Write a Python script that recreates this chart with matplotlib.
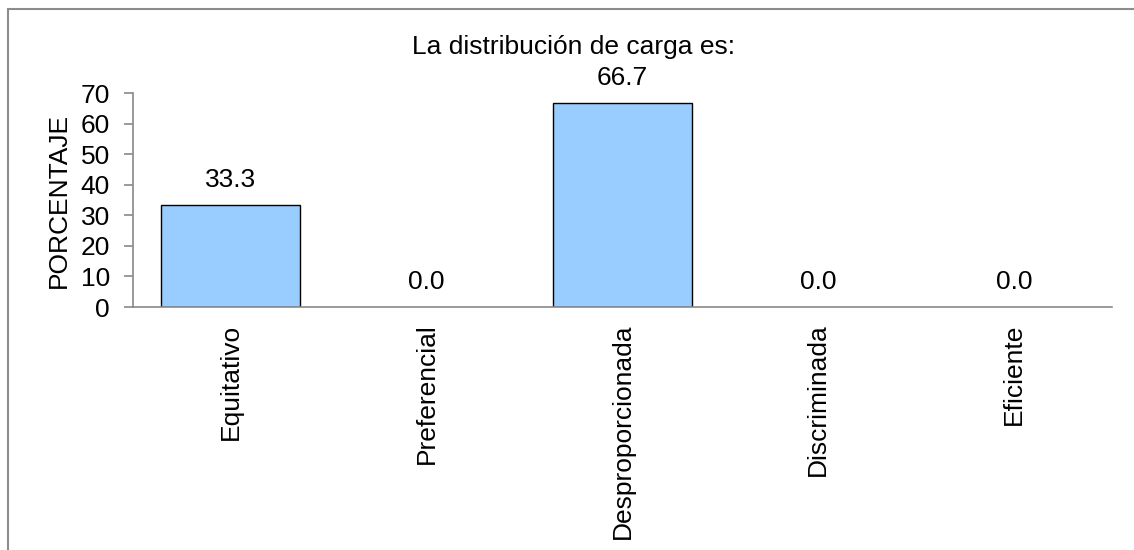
import matplotlib
matplotlib.use("Agg")
import matplotlib.pyplot as plt
from matplotlib.patches import Rectangle

categories = ["Equitativo", "Preferencial", "Desproporcionada", "Discriminada", "Eficiente"]
values = [33.3, 0.0, 66.7, 0.0, 0.0]
yticks = [0, 10, 20, 30, 40, 50, 60, 70]

plt.rcParams["font.family"] = ["Liberation Sans", "DejaVu Sans"]
plt.rcParams["font.size"] = 19

fig = plt.figure(figsize=(11.34, 5.5), dpi=100)
ax = fig.add_axes([0.1173, 0.4418, 0.8633, 0.3891])

x = range(len(categories))
# empty bars get no outline so the baseline stays grey
edges = ["black" if v > 0 else "none" for v in values]
bars = ax.bar(x, values, width=0.71, color="#99CCFF", edgecolor=edges, linewidth=1.0)

for b, v in zip(bars, values):
    ax.annotate(f"{v:.1f}", (b.get_x() + b.get_width() / 2, v),
                xytext=(0, 13), textcoords="offset points",
                ha="center", va="baseline", fontsize=19)

ax.set_xlim(-0.5, len(categories) - 0.5)
ax.set_ylim(0, 70)
ax.set_yticks(yticks)
ax.set_xticks(list(x))
ax.set_xticklabels(categories, rotation=90, va="top", ha="center")
ax.tick_params(axis="x", length=0, pad=12)
ax.tick_params(axis="y", length=6.5, width=1.2, color="#898989", pad=10)
ax.set_ylabel("PORCENTAJE", labelpad=7)

for side in ("top", "right"):
    ax.spines[side].set_visible(False)
for side in ("left", "bottom"):
    ax.spines[side].set_color("#898989")
    ax.spines[side].set_linewidth(1.2)

fig.text(574 / 1134, 1 - 47 / 550, "La distribución de carga es:",
         ha="center", va="center", fontsize=19)

# chart frame, open on the right and bottom
fig.patches.append(Rectangle((8 / 1134, -0.2), 1.2, 1.2 - 9 / 550,
                             transform=fig.transFigure, fill=False,
                             edgecolor="#8c8c8c", linewidth=1.5))

fig.savefig("out.png", dpi=100)
